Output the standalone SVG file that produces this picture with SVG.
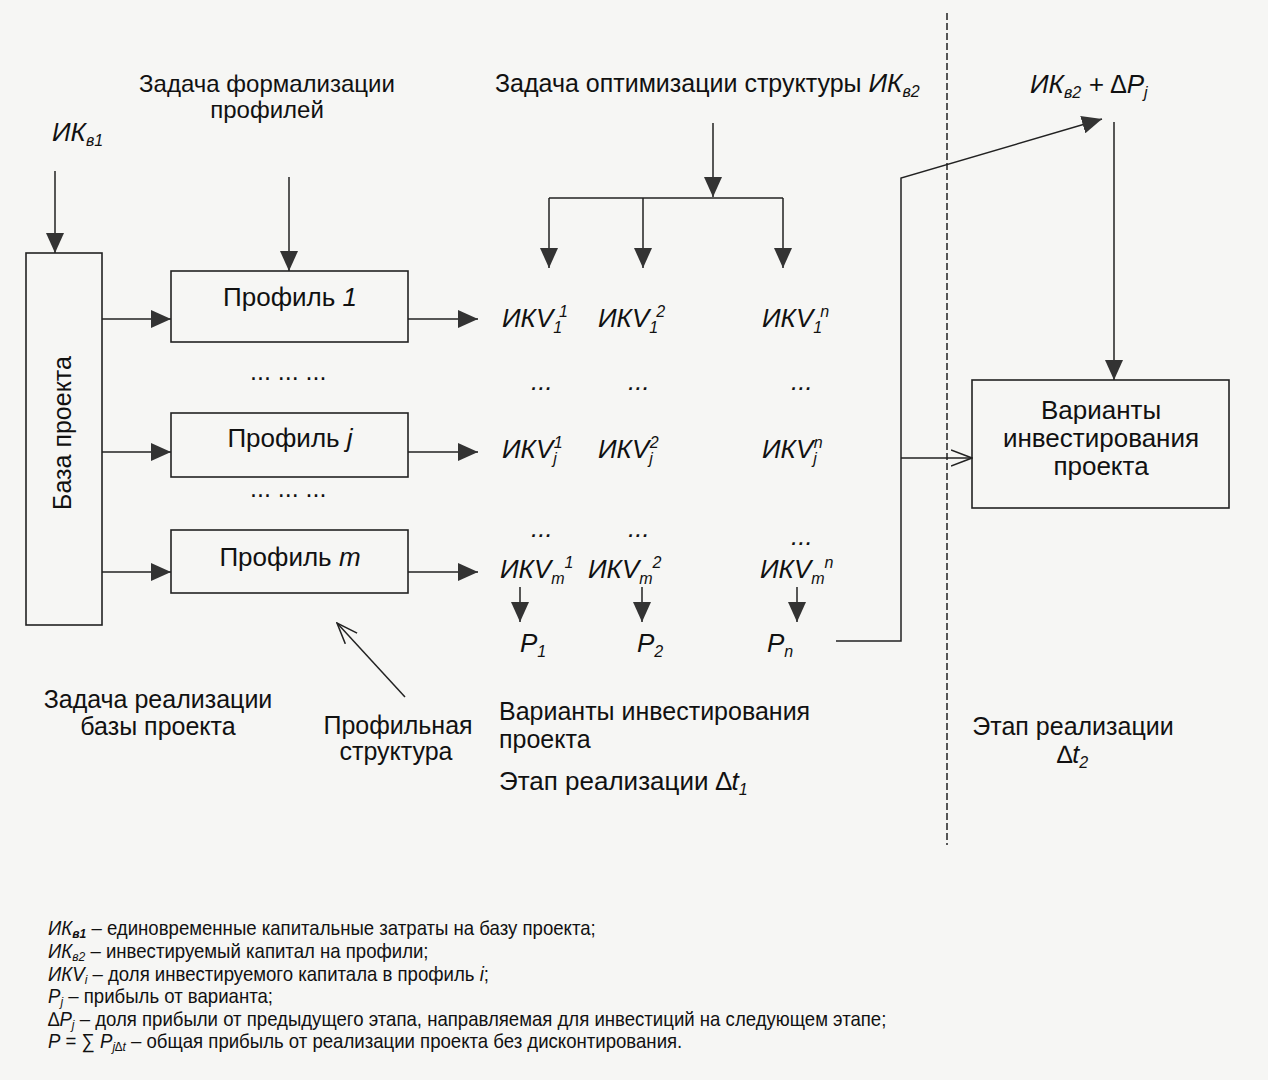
<svg xmlns="http://www.w3.org/2000/svg" width="1268" height="1080" viewBox="0 0 1268 1080">
<defs>
<marker id="fa" viewBox="0 0 20 18" refX="20" refY="9" markerWidth="20" markerHeight="18" markerUnits="userSpaceOnUse" orient="auto"><path d="M0,0 L20,9 L0,18 z" fill="#333"/></marker>
<marker id="oa" viewBox="0 0 22 18" refX="21" refY="9" markerWidth="22" markerHeight="18" markerUnits="userSpaceOnUse" orient="auto"><path d="M0,1 L21,9 L0,17" fill="none" stroke="#222" stroke-width="1.5"/></marker>
</defs>
<style>
text{font-family:"Liberation Sans",Arial,sans-serif;fill:#111}
.t{font-size:25px}
.b{font-size:26px}
.i{font-style:italic}
.v{font-size:26px;font-style:italic}
.s{font-size:16px}
.box{fill:none;stroke:#222;stroke-width:1.6}
.ln{fill:none;stroke:#222;stroke-width:1.5}
.ar{marker-end:url(#fa)}
.oa{marker-end:url(#oa)}
.lg{font-size:20px}
.ls{font-size:13px}
</style>
<rect width="1268" height="1080" fill="#f6f6f4"/>

<g id="connectors">
<path class="ln ar" d="M55,171 V253"/>
<path class="ln ar" d="M289,177 V271"/>
<path class="ln ar" d="M102,319 H171"/>
<path class="ln ar" d="M102,452 H171"/>
<path class="ln ar" d="M102,572 H171"/>
<path class="ln ar" d="M408,319 H478"/>
<path class="ln ar" d="M408,452 H478"/>
<path class="ln ar" d="M408,572 H478"/>
<path class="ln ar" d="M713,123 V197"/>
<path class="ln" d="M549,198 H783"/>
<path class="ln ar" d="M549,198 V268"/>
<path class="ln ar" d="M643,198 V268"/>
<path class="ln ar" d="M783,198 V268"/>
<path class="ln ar" d="M520,587 V622"/>
<path class="ln ar" d="M642,587 V622"/>
<path class="ln ar" d="M797,587 V622"/>
<path class="ln ar" d="M836,641 H901 V178 L1102,119"/>
<path class="ln oa" d="M901,458 H972"/>
<path class="ln ar" d="M1114,122 V380"/>
<path class="ln oa" d="M405,697 L337,623"/>
<path class="ln" d="M947,13 V845" stroke-dasharray="7 3"/>
</g>

<g id="baza">
<rect class="box" x="26" y="253" width="76" height="372"/>
<text class="t" text-anchor="middle" transform="translate(71,433) rotate(-90)">База проекта</text>
</g>
<g id="profile1">
<rect class="box" x="171" y="271" width="237" height="71"/>
<text class="b" x="290" y="306" text-anchor="middle">Профиль <tspan class="i">1</tspan></text>
</g>
<g id="profilej">
<rect class="box" x="171" y="413" width="237" height="64"/>
<text class="b" x="290" y="447" text-anchor="middle">Профиль <tspan class="i">j</tspan></text>
</g>
<g id="profilem">
<rect class="box" x="171" y="530" width="237" height="63"/>
<text class="b" x="290" y="566" text-anchor="middle">Профиль <tspan class="i">m</tspan></text>
</g>
<g id="varianty">
<rect class="box" x="972" y="380" width="257" height="128"/>
<text class="b" text-anchor="middle"><tspan x="1101" y="419">Варианты</tspan><tspan x="1101" y="447">инвестирования</tspan><tspan x="1101" y="475">проекта</tspan></text>
</g>

<g id="labels">
<text class="v" x="52" y="141">ИК<tspan class="s" dy="5">в1</tspan></text>
<text font-size="24" text-anchor="middle"><tspan x="267" y="92">Задача формализации</tspan><tspan x="267" y="118">профилей</tspan></text>
<text class="t" x="495" y="92">Задача оптимизации структуры <tspan class="v">ИК</tspan><tspan class="s i" dy="5">в2</tspan></text>
<text class="v" x="1030" y="93">ИК<tspan class="s" dy="5">в2</tspan><tspan dy="-5">  + ∆P</tspan><tspan class="s" dy="5">j</tspan></text>

<text class="t" x="250" y="380">... ... ...</text>
<text class="t" x="250" y="497">... ... ...</text>

<text class="v" x="502" y="327">ИКV<tspan class="s" dy="6">1</tspan><tspan class="s" dx="-2" dy="-16">1</tspan></text>
<text class="v" x="598" y="327">ИКV<tspan class="s" dy="6">1</tspan><tspan class="s" dx="-2" dy="-16">2</tspan></text>
<text class="v" x="762" y="327">ИКV<tspan class="s" dy="6">1</tspan><tspan class="s" dx="-2" dy="-16">n</tspan></text>
<text class="v" x="531" y="390">...</text>
<text class="v" x="628" y="390">...</text>
<text class="v" x="791" y="390">...</text>

<text class="v" x="502" y="458">ИКV<tspan class="s" dy="6">j</tspan><tspan class="s" dx="-3" dy="-16">1</tspan></text>
<text class="v" x="598" y="458">ИКV<tspan class="s" dy="6">j</tspan><tspan class="s" dx="-3" dy="-16">2</tspan></text>
<text class="v" x="762" y="458">ИКV<tspan class="s" dy="6">j</tspan><tspan class="s" dx="-3" dy="-16">n</tspan></text>
<text class="v" x="531" y="537">...</text>
<text class="v" x="628" y="537">...</text>
<text class="v" x="791" y="545">...</text>

<text class="v" x="500" y="578">ИКV<tspan class="s" dy="6">m</tspan><tspan class="s" dy="-16">1</tspan></text>
<text class="v" x="588" y="578">ИКV<tspan class="s" dy="6">m</tspan><tspan class="s" dy="-16">2</tspan></text>
<text class="v" x="760" y="578">ИКV<tspan class="s" dy="6">m</tspan><tspan class="s" dy="-16">n</tspan></text>

<text class="v" x="520" y="652">P<tspan class="s" dy="5">1</tspan></text>
<text class="v" x="637" y="652">P<tspan class="s" dy="5">2</tspan></text>
<text class="v" x="767" y="652">P<tspan class="s" dy="5">n</tspan></text>

<text class="t" text-anchor="middle"><tspan x="158" y="708">Задача реализации</tspan><tspan x="158" y="735">базы проекта</tspan></text>
<text class="t" text-anchor="middle"><tspan x="398" y="734">Профильная</tspan><tspan x="396" y="760">структура</tspan></text>
<text class="t"><tspan x="499" y="720">Варианты инвестирования</tspan><tspan x="499" y="748">проекта</tspan></text>
<text class="b" x="499" y="790">Этап реализации ∆<tspan class="i">t</tspan><tspan class="s i" dy="5">1</tspan></text>
<text class="t" text-anchor="middle"><tspan x="1073" y="735">Этап реализации</tspan></text>
<text class="t" x="1057" y="763">∆<tspan class="i">t</tspan><tspan class="s i" dy="5">2</tspan></text>
</g>

<g id="legend" transform="translate(48,0) scale(0.93,1)">
<text class="lg" x="0" y="935"><tspan class="i">ИК</tspan><tspan class="ls i" font-weight="bold" dy="3">в1</tspan><tspan dy="-3"> – единовременные капитальные затраты на базу проекта;</tspan></text>
<text class="lg" x="0" y="958"><tspan class="i">ИК</tspan><tspan class="ls i" dy="3">в2</tspan><tspan dy="-3"> – инвестируемый капитал на профили;</tspan></text>
<text class="lg" x="0" y="981"><tspan class="i">ИКV</tspan><tspan class="ls i" dy="3">i</tspan><tspan dy="-3"> – доля инвестируемого капитала в профиль </tspan><tspan class="i">i</tspan>;</text>
<text class="lg" x="0" y="1003"><tspan class="i">P</tspan><tspan class="ls i" dy="3">j</tspan><tspan dy="-3"> – прибыль от варианта;</tspan></text>
<text class="lg" x="0" y="1026">∆<tspan class="i">P</tspan><tspan class="ls i" dy="3">j</tspan><tspan dy="-3"> – доля прибыли от предыдущего этапа, направляемая для инвестиций на следующем этапе;</tspan></text>
<text class="lg" x="0" y="1048"><tspan class="i">P</tspan> = ∑ <tspan class="i">P</tspan><tspan class="ls i" dy="3">j∆t</tspan><tspan dy="-3"> – общая прибыль от реализации проекта без дисконтирования.</tspan></text>
</g>
</svg>
